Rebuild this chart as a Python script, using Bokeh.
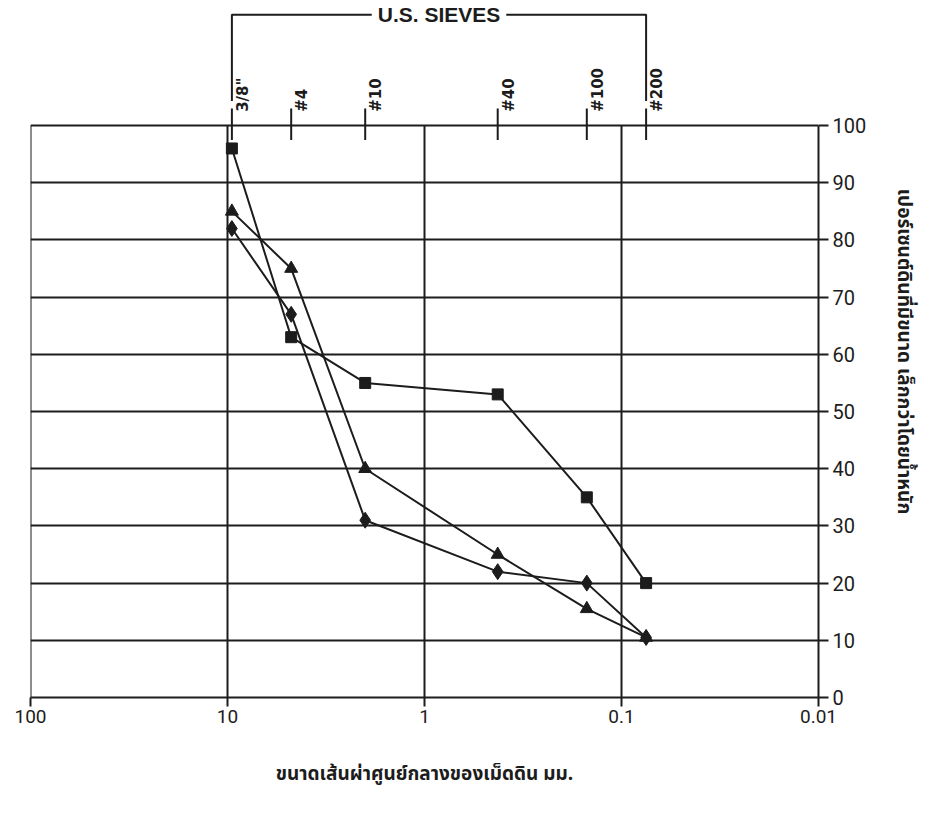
import math

from bokeh.core.properties import value
from bokeh.embed import file_html
from bokeh.models import FixedTicker, Label, Range1d
from bokeh.plotting import figure
from bokeh.resources import INLINE

# U.S. standard sieves: opening size in mm and designation
sieve_sizes = [9.5, 4.75, 2.0, 0.425, 0.15, 0.075]
sieve_names = ['3/8"', "#4", "#10", "#40", "#100", "#200"]

# percent finer by weight for three soil samples
sample_square = [96, 63, 55, 53, 35, 20]
sample_triangle = [85, 75, 40, 25, 15.5, 10.5]
sample_diamond = [82, 67, 31, 22, 20, 10.5]

# axis ticks
x_ticks = [100, 10, 1, 0.1, 0.01]
x_tick_labels = ["100", "10", "1", "0.1", "0.01"]
x_grid_ticks = [10, 1, 0.1]
y_ticks = [0, 10, 20, 30, 40, 50, 60, 70, 80, 90, 100]

THAI_FONT = "'Noto Sans Thai', 'Noto Sans', sans-serif"
NUM_FONT = "Roboto"
INK = "#1c1c1c"

# the frame reaches above 100 % so the sieve header shares the same scales
Y_TOP = 121.0
p = figure(
    width=935, height=815,
    x_axis_type="log", x_range=Range1d(100, 0.01), y_range=Range1d(0, Y_TOP),
    y_axis_location="right",
    output_backend="svg", toolbar_location=None,
    min_border_left=30, min_border_right=117,
    min_border_top=5, min_border_bottom=118,
    background_fill_color="white", border_fill_color="white",
)
p.outline_line_color = None

# bottom axis: particle diameter
xax = p.below[0]
xax.ticker = FixedTicker(ticks=x_ticks)
xax.major_label_overrides = dict(zip(x_ticks, x_tick_labels))
xax.axis_line_color = INK
xax.axis_line_width = 2
xax.major_tick_line_color = INK
xax.major_tick_line_width = 2
xax.major_tick_out = 9
xax.major_tick_in = 0
xax.minor_tick_line_color = None
xax.major_label_standoff = 3
xax.major_label_text_font = NUM_FONT
xax.major_label_text_font_size = "19px"
xax.major_label_text_color = INK
xax.axis_label = "ขนาดเส้นผ่าศูนย์กลางของเม็ดดิน มม."
xax.axis_label_text_font = THAI_FONT
xax.axis_label_text_font_size = "19px"
xax.axis_label_text_font_style = "bold"
xax.axis_label_text_color = INK
xax.axis_label_standoff = 34

# right axis: percent finer, drawn only over 0-100
yax = p.right[0]
yax.ticker = FixedTicker(ticks=y_ticks)
yax.bounds = (y_ticks[0], y_ticks[-1])
yax.axis_line_color = INK
yax.axis_line_width = 2
yax.major_tick_line_color = INK
yax.major_tick_line_width = 2
yax.major_tick_out = 10
yax.major_tick_in = 0
yax.minor_tick_line_color = None
yax.major_label_standoff = 4
yax.major_label_text_font = NUM_FONT
yax.major_label_text_font_size = "20px"
yax.major_label_text_color = INK
yax.axis_label = "เปอร์เซนต์ดินที่มีขนาด เล็กกว่าโดยน้ำหนัก"
yax.axis_label_text_font = THAI_FONT
yax.axis_label_text_font_size = "19px"
yax.axis_label_text_font_style = "bold"
yax.axis_label_text_color = INK
yax.axis_label_standoff = 20

# horizontal grid (the 100 % line is the top border)
p.ygrid.ticker = FixedTicker(ticks=y_ticks)
p.ygrid.grid_line_color = INK
p.ygrid.grid_line_width = 2
p.ygrid.grid_line_alpha = 1.0
p.xgrid.grid_line_color = None

# vertical grid lines at each decade plus the left border, held within 0-100 %
v_lines = [x_ticks[0]] + x_grid_ticks
p.segment(x0=v_lines, y0=[y_ticks[0]] * len(v_lines),
          x1=v_lines, y1=[y_ticks[-1]] * len(v_lines),
          line_color=INK, line_width=2)

# sieve tick marks across the top border
p.segment(x0=sieve_sizes, y0=[97.5] * len(sieve_sizes),
          x1=sieve_sizes, y1=[103.0] * len(sieve_sizes),
          line_color=INK, line_width=2)

# sieve designations, written upward beside each tick
p.text(x=sieve_sizes, y=[102.4] * len(sieve_sizes), text=sieve_names,
       angle=math.pi / 2, x_offset=11,
       text_align="left", text_baseline="middle",
       text_font=value("DejaVu Sans"), text_font_style="bold",
       text_font_size=value("15px"), text_color=INK)

# "U.S. SIEVES" bracket spanning the coarsest to the finest sieve
bracket_top = 119.4
bracket_foot = 104.3
x_left, x_right = sieve_sizes[0], sieve_sizes[-1]
p.line(x=[x_left, x_left, x_right, x_right],
       y=[bracket_foot, bracket_top, bracket_top, bracket_foot],
       line_color=INK, line_width=2)
p.add_layout(Label(
    x=math.sqrt(x_left * x_right), y=bracket_top, text="U.S. SIEVES",
    text_align="center", text_baseline="middle",
    text_font="Liberation Sans", text_font_style="bold",
    text_font_size="21px", text_color=INK,
    background_fill_color="white", padding=6,
))

# grading curves
for series, marker, size in [
    (sample_square, "square", 11),
    (sample_triangle, "triangle", 13),
    (sample_diamond, "diamond", 16),
]:
    p.line(sieve_sizes, series, line_color=INK, line_width=2)
    p.scatter(sieve_sizes, series, marker=marker, size=size,
              fill_color=INK, line_color=INK)

open("out.html", "w").write(file_html(p, INLINE))
